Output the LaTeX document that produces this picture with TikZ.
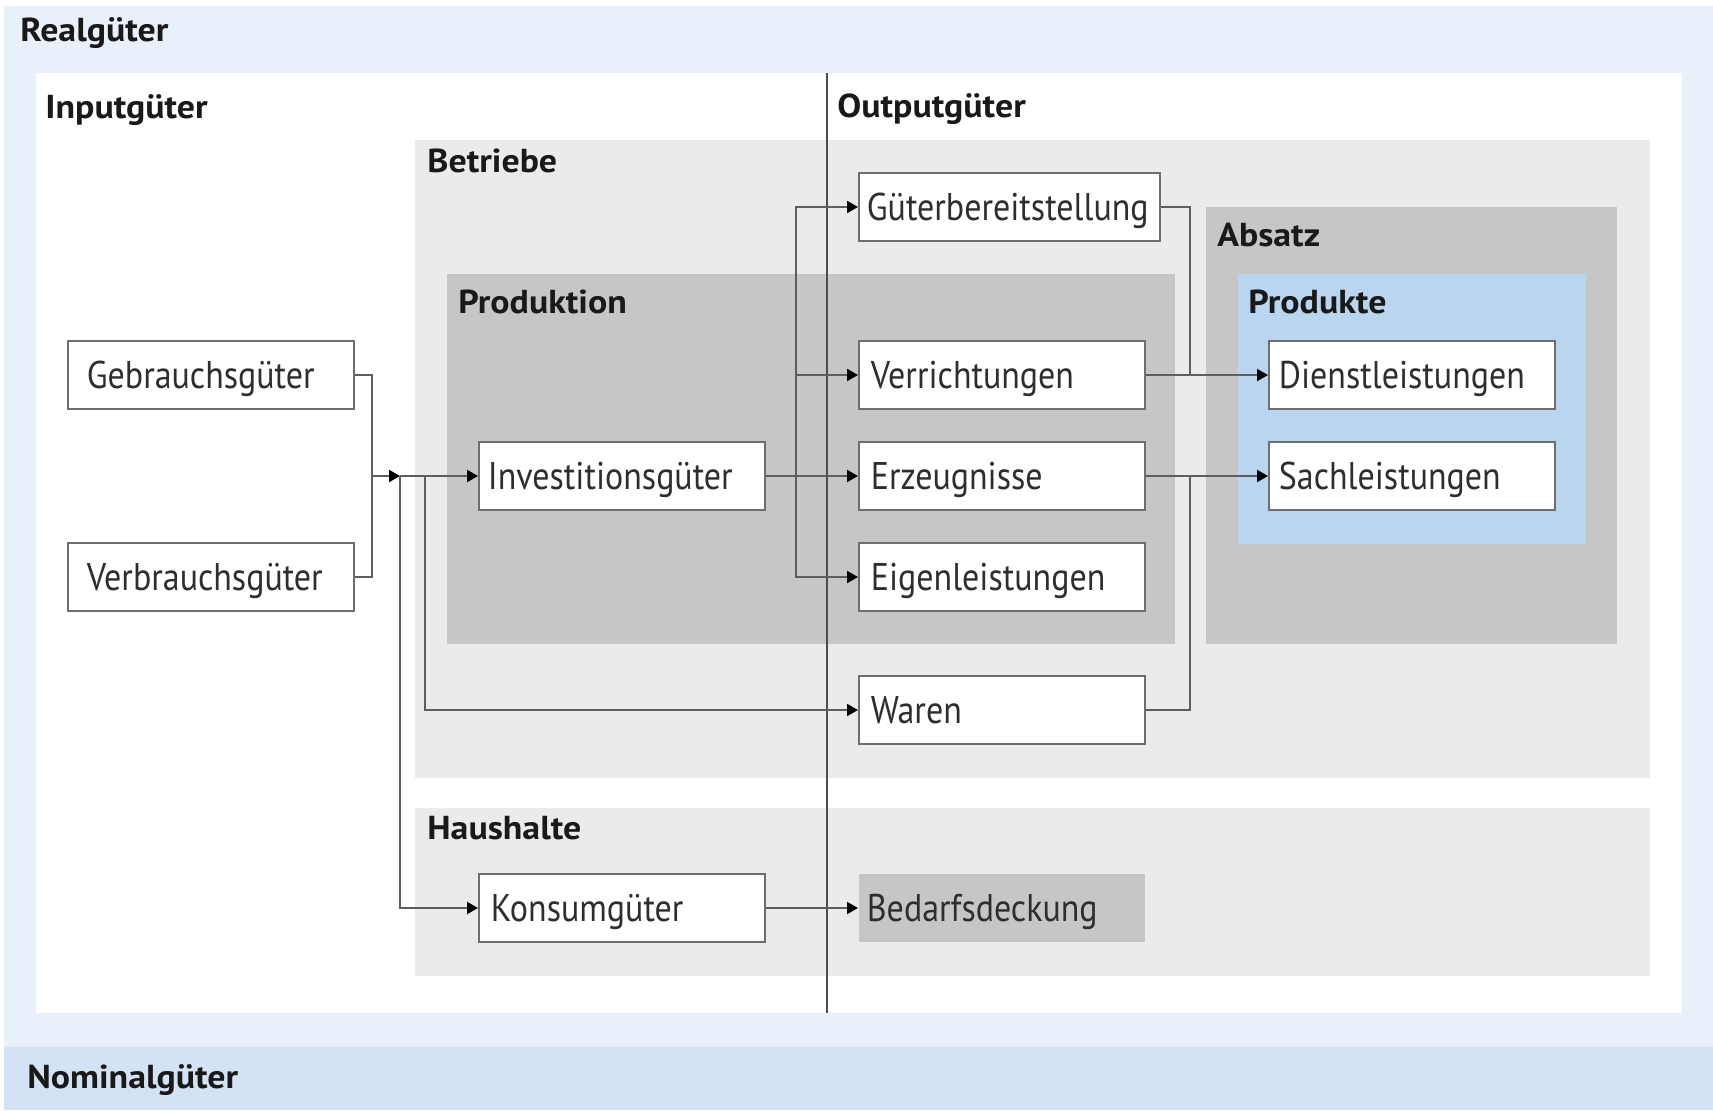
\documentclass[tikz,border=0pt]{standalone}
\usepackage{fontspec}
\setmainfont{PT Sans}
\newfontfamily\schmal{PT Sans}[FakeStretch=0.88]
\newfontfamily\breitfett{PT Sans Bold}[FakeStretch=1.08]
\usepackage{tikz}
\usetikzlibrary{arrows.meta}

\definecolor{realblau}{HTML}{E8F0FA}
\definecolor{nominalblau}{HTML}{D3E3F5}
\definecolor{hellgrau}{HTML}{EBEBEB}
\definecolor{mittelgrau}{HTML}{C6C6C6}
\definecolor{produktblau}{HTML}{B9D5EF}
\definecolor{rahmen}{HTML}{6E6E6E}
\definecolor{linienfarbe}{HTML}{5E5E5E}
\definecolor{schrift}{HTML}{2E2E2E}

\tikzset{
  gut/.style={draw=rahmen, line width=0.9pt, fill=white, anchor=west,
    minimum height=34pt, inner xsep=6pt, text width=131pt, align=left,
    text height=13.5pt, text depth=0pt, text=schrift,
    font=\schmal\fontsize{19.3}{21}\selectfont},
  titel/.style={anchor=base west, inner sep=0pt, text=black!90,
    font=\breitfett\fontsize{16.6}{18}\selectfont},
  linie/.style={draw=linienfarbe, line width=1pt},
  pfeil/.style={linie, -{Triangle[length=5.5pt, width=6pt, color=black]}},
}

\begin{document}
\begin{tikzpicture}[x=0.5pt, y=-0.5pt]
  \useasboundingbox (0,0) rectangle (1713,1110);
  % Hintergrundflaechen
  \fill[realblau]    (4,6)      rectangle (1713,1047);
  \fill[nominalblau] (4,1047)   rectangle (1713,1110);
  \fill[white]       (36,73)    rectangle (1682,1013);
  \fill[hellgrau]    (415,140)  rectangle (1650,778);
  \fill[hellgrau]    (415,808)  rectangle (1650,976);
  \fill[mittelgrau]  (447,274)  rectangle (1175,644);
  \fill[mittelgrau]  (1206,207) rectangle (1617,644);
  \fill[produktblau] (1238,274) rectangle (1586,544);
  % Trennlinie Input / Output
  \draw[linie, draw=black!70] (827,73) -- (827,1013);

  % Ueberschriften
  \node[titel] (realg)      at (20,41)    {Realgüter};
  \node[titel] (inputg)     at (45,118)   {Inputgüter};
  \node[titel] (outputg)    at (837,117)  {Outputgüter};
  \node[titel] (betriebe)   at (427,172)  {Betriebe};
  \node[titel] (produktion) at (458,313)  {Produktion};
  \node[titel] (absatz)     at (1217,246) {Absatz};
  \node[titel] (produkte)   at (1248,313) {Produkte};
  \node[titel] (haushalte)  at (427,839)  {Haushalte};
  \node[titel] (nominalg)   at (27,1088)  {Nominalgüter};

  % Gueter
  \node[gut, inner xsep=9.5pt, text width=124pt] (gebrauch)  at (67,375) {Gebrauchsgüter};
  \node[gut, inner xsep=9.5pt, text width=124pt] (verbrauch) at (67,577) {Verbrauchsgüter};
  \node[gut, inner xsep=4.5pt, text width=134pt] (invest)    at (478,476) {Investitionsgüter};
  \node[gut, inner xsep=4pt, text width=142.5pt] (gueter)    at (858,207) {Güterbereitstellung};
  \node[gut]                                     (verricht)  at (858,375) {Verrichtungen};
  \node[gut]                                     (erzeug)    at (858,476) {Erzeugnisse};
  \node[gut]                                     (eigen)     at (858,577) {Eigenleistungen};
  \node[gut]                                     (waren)     at (858,710) {Waren};
  \node[gut, inner xsep=5pt, text width=133pt]   (dienst)    at (1268,375) {Dienstleistungen};
  \node[gut, inner xsep=5pt, text width=133pt]   (sach)      at (1268,476) {Sachleistungen};
  \node[gut]                                     (konsum)    at (478,908) {Konsumgüter};
  \node[gut, draw=none, fill=mittelgrau, inner xsep=4pt, text width=135pt] (bedarf) at (858,908) {Bedarfsdeckung};

  % Verzweigungspunkte
  \coordinate (zusammen)  at (372,476);
  \coordinate (knoten)    at (400,476);
  \coordinate (abzweig)   at (425,476);
  \coordinate (verteiler) at (796,476);
  \coordinate (sammelD)   at (1190,375);
  \coordinate (sammelS)   at (1190,476);

  \draw[linie] (gebrauch.east) -| (zusammen) |- (verbrauch.east);
  \draw[pfeil] (zusammen) -- (knoten);
  \draw[pfeil] (knoten) -- (invest);
  \draw[pfeil] (knoten) |- (konsum);
  \draw[pfeil] (abzweig) |- (waren);
  \draw[pfeil] (invest) -- (erzeug);
  \draw[pfeil] (verteiler) |- (gueter);
  \draw[pfeil] (verteiler) |- (verricht);
  \draw[pfeil] (verteiler) |- (eigen);
  \draw[pfeil] (verricht) -- (dienst);
  \draw[linie] (gueter.east) -| (sammelD);
  \draw[pfeil] (erzeug) -- (sach);
  \draw[linie] (waren.east) -| (sammelS);
  \draw[pfeil] (konsum) -- (bedarf);
\end{tikzpicture}
\end{document}
